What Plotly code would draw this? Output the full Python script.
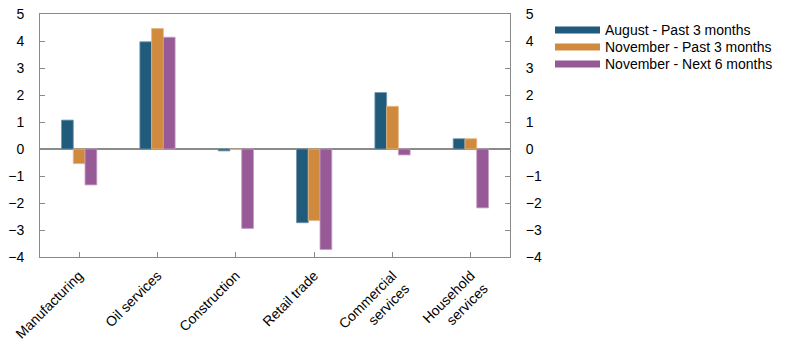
import plotly.graph_objects as go

# Sector survey balances
sectors = ["Manufacturing", "Oil services", "Construction", "Retail trade",
           "Commercial<br>services", "Household<br>services"]
series_names = ["August - Past 3 months", "November - Past 3 months",
                "November - Next 6 months"]
aug_past3 = [1.07, 3.97, -0.07, -2.73, 2.09, 0.38]
nov_past3 = [-0.54, 4.46, -0.02, -2.65, 1.58, 0.38]
nov_next6 = [-1.33, 4.14, -2.94, -3.72, -0.22, -2.18]
colors = ["#215b7b", "#cf8a3e", "#985a96"]
edge_colors = ["#6f93a8", "#e3b582", "#c29cc1"]
y_ticks = [-4, -3, -2, -1, 0, 1, 2, 3, 4, 5]

FONT = "Liberation Sans, Arial, sans-serif"
AXIS_GREY = "#8a8a8a"

fig = go.Figure()
for name, vals, col, edge in zip(series_names, [aug_past3, nov_past3, nov_next6],
                                 colors, edge_colors):
    fig.add_trace(go.Bar(x=sectors, y=vals, name=name, marker_color=col,
                         marker_line=dict(color=edge, width=0.8),
                         showlegend=False))

# invisible trace to activate the right-hand axis
fig.add_trace(go.Scatter(x=[sectors[0]], y=[0], yaxis="y2", mode="markers",
                         marker_opacity=0, showlegend=False, hoverinfo="skip"))

# Legend drawn as wide swatches with text beside them
x0, x1, xt = (555 - 40) / 470, (600 - 40) / 470, (603 - 40) / 470
row_px = [30, 47, 64]
for name, col, ypx in zip(series_names, colors, row_px):
    yc = (257 - ypx) / 243
    fig.add_shape(type="rect", xref="paper", yref="paper", x0=x0, x1=x1,
                  y0=yc - 3.5 / 243, y1=yc + 3.5 / 243, fillcolor=col,
                  line_width=0)
    fig.add_annotation(xref="paper", yref="paper", x=xt, y=yc, text=name,
                       showarrow=False, xanchor="left", yanchor="middle",
                       font=dict(family=FONT, size=14, color="#000"))

yaxis_common = dict(range=[-4, 5], tickvals=y_ticks, ticks="inside", ticklen=5,
                    tickcolor=AXIS_GREY, showline=True, linecolor=AXIS_GREY,
                    linewidth=1, showgrid=False, ticklabelstandoff=12,
                    automargin=False,
                    tickfont=dict(family=FONT, size=14, color="#000"))

fig.update_layout(
    width=797, height=348,
    margin=dict(l=40, r=287, t=14, b=91),
    paper_bgcolor="white", plot_bgcolor="white",
    barmode="group", bargap=0.55, bargroupgap=0,
    xaxis=dict(showline=True, mirror=True, linecolor=AXIS_GREY, linewidth=1,
               ticks="inside", ticklen=5, tickcolor=AXIS_GREY, tickangle=-45,
               ticklabelstandoff=4, automargin=False,
               tickfont=dict(family=FONT, size=14, color="#000"),
               showgrid=False),
    yaxis=dict(**yaxis_common, zeroline=True, zerolinecolor=AXIS_GREY,
               zerolinewidth=1.5),
    yaxis2=dict(**yaxis_common, overlaying="y", side="right", zeroline=False),
)

fig.write_html("out.html")
